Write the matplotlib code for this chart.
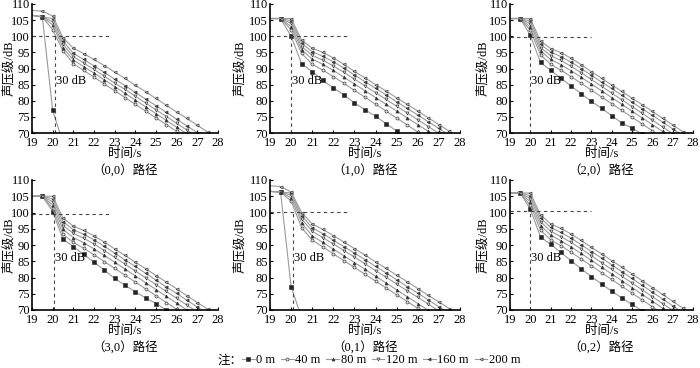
import matplotlib
matplotlib.use("Agg")
import matplotlib.pyplot as plt

plt.rcParams['font.family'] = ['Liberation Serif', 'Noto Sans CJK SC']
plt.rcParams['axes.unicode_minus'] = False

# time grid (s)
t = [19, 19.5, 20, 20.5, 21, 21.5, 22, 22.5, 23, 23.5, 24, 24.5, 25, 25.5, 26, 26.5, 27, 27.5, 28]
distances = ["0 m", "40 m", "80 m", "120 m", "160 m", "200 m"]
panel_titles = ["（0,0）路径", "（1,0）路径", "（2,0）路径", "（3,0）路径", "（0,1）路径", "（0,2）路径"]
xticks = [19, 20, 21, 22, 23, 24, 25, 26, 27, 28]
yticks = [70, 75, 80, 85, 90, 95, 100, 105, 110]

# panel (0,0)
p00_0 = [106.5, 106.0, 77.0, 67.0]
p00_40 = [106.5, 106.0, 102.0, 95.5, 91.5, 89.4, 87.3, 85.2, 83.1, 81.0, 78.9, 76.8, 74.7, 72.6, 70.5, 68.4]
p00_80 = [106.5, 106.0, 103.5, 96.5, 92.6, 90.6, 88.6, 86.5, 84.4, 82.3, 80.2, 78.1, 76.0, 73.9, 71.8, 69.7]
p00_120 = [106.5, 106.0, 104.5, 97.5, 93.7, 91.7, 89.7, 87.6, 85.5, 83.5, 81.4, 79.3, 77.2, 75.1, 73.0, 70.9, 68.8]
p00_160 = [106.5, 106.0, 105.5, 98.5, 94.7, 92.8, 90.8, 88.8, 86.7, 84.7, 82.6, 80.5, 78.5, 76.4, 74.3, 72.2, 70.1, 68.0]
p00_200 = [108.0, 107.8, 106.3, 99.5, 96.3, 94.6, 92.8, 90.9, 88.9, 86.9, 84.8, 82.8, 80.7, 78.6, 76.5, 74.5, 72.4, 70.3, 68.2]

# panel (1,0)
p10_0 = [105.5, 105.5, 100.0, 91.5, 89.0, 86.3, 84.0, 81.8, 79.3, 77.2, 75.2, 72.9, 70.6, 68.4]
p10_40 = [105.5, 105.5, 102.0, 94.7, 91.3, 89.5, 87.5, 85.4, 83.2, 81.1, 78.9, 76.8, 74.6, 72.5, 70.3, 68.2]
p10_80 = [105.5, 105.5, 103.0, 95.8, 92.9, 91.3, 89.4, 87.3, 85.2, 83.1, 81.0, 78.9, 76.8, 74.7, 72.6, 70.5, 68.4]
p10_120 = [105.5, 105.5, 104.0, 96.8, 94.1, 92.6, 90.8, 88.8, 86.7, 84.6, 82.5, 80.4, 78.3, 76.2, 74.1, 72.0, 69.9]
p10_160 = [105.5, 105.5, 104.8, 97.8, 95.2, 93.8, 92.1, 90.1, 88.0, 85.9, 83.9, 81.8, 79.7, 77.6, 75.6, 73.5, 71.4, 69.3]
p10_200 = [105.5, 105.5, 105.5, 98.8, 96.3, 95.0, 93.3, 91.3, 89.1, 87.1, 85.0, 83.0, 80.9, 78.9, 76.8, 74.7, 72.6, 70.5, 68.4]

# panel (2,0)
p20_0 = [105.5, 105.5, 100.3, 91.9, 89.4, 87.0, 84.6, 82.2, 79.8, 77.7, 75.4, 73.1, 71.5, 69.7]
p20_40 = [105.5, 105.5, 101.8, 94.3, 91.3, 89.5, 87.5, 85.4, 83.3, 81.2, 79.1, 77.0, 74.9, 72.8, 70.7, 68.6]
p20_80 = [105.5, 105.5, 102.8, 95.5, 92.8, 91.2, 89.3, 87.3, 85.2, 83.1, 81.0, 78.9, 76.8, 74.7, 72.6, 70.5, 68.4]
p20_120 = [105.5, 105.5, 103.8, 96.5, 94.0, 92.5, 90.7, 88.7, 86.6, 84.5, 82.4, 80.3, 78.2, 76.1, 74.0, 71.9, 69.8]
p20_160 = [105.5, 105.5, 104.7, 97.5, 95.1, 93.7, 92.0, 90.0, 87.9, 85.8, 83.8, 81.7, 79.6, 77.5, 75.5, 73.4, 71.3, 69.2]
p20_200 = [105.5, 105.5, 105.5, 98.5, 96.2, 94.9, 93.2, 91.2, 89.0, 87.0, 84.9, 82.9, 80.8, 78.8, 76.7, 74.6, 72.5, 70.4, 68.3]

# panel (3,0)
p30_0 = [105.0, 105.0, 100.3, 91.8, 89.5, 87.1, 84.7, 82.3, 79.7, 77.6, 75.6, 73.7, 72.0, 70.0, 68.0]
p30_40 = [105.0, 105.0, 101.3, 93.3, 90.8, 89.0, 87.0, 84.9, 82.8, 80.7, 78.6, 76.5, 74.4, 72.3, 70.2, 68.1]
p30_80 = [105.0, 105.0, 102.3, 94.8, 92.3, 90.7, 88.8, 86.8, 84.7, 82.6, 80.5, 78.4, 76.3, 74.2, 72.1, 70.0, 67.9]
p30_120 = [105.0, 105.0, 103.3, 96.0, 93.6, 92.1, 90.3, 88.3, 86.2, 84.1, 82.0, 79.9, 77.8, 75.7, 73.6, 71.5, 69.4]
p30_160 = [105.0, 105.0, 104.2, 97.2, 94.7, 93.3, 91.6, 89.6, 87.5, 85.4, 83.4, 81.3, 79.2, 77.1, 75.1, 73.0, 70.9, 68.8]
p30_200 = [105.0, 105.0, 105.0, 98.3, 95.8, 94.5, 92.8, 90.9, 88.8, 86.8, 84.7, 82.7, 80.6, 78.6, 76.5, 74.4, 72.3, 70.3, 68.2]

# panel (0,1)
p01_0 = [106.5, 106.3, 77.2, 67.5]
p01_40 = [106.5, 106.3, 103.5, 95.3, 91.5, 89.4, 87.3, 85.2, 83.1, 81.0, 78.9, 76.8, 74.7, 72.6, 70.5, 68.4]
p01_80 = [106.5, 106.3, 104.5, 96.8, 92.8, 90.8, 88.7, 86.7, 84.6, 82.5, 80.4, 78.3, 76.2, 74.1, 72.0, 69.9]
p01_120 = [106.5, 106.3, 105.3, 98.0, 94.2, 92.3, 90.3, 88.3, 86.3, 84.2, 82.1, 80.1, 78.0, 75.9, 73.9, 71.8, 69.7]
p01_160 = [106.5, 106.3, 106.0, 99.0, 95.3, 93.5, 91.5, 89.5, 87.5, 85.5, 83.4, 81.4, 79.3, 77.2, 75.2, 73.1, 71.0, 68.9]
p01_200 = [108.2, 108.0, 106.3, 100.0, 96.5, 94.8, 92.9, 90.9, 88.9, 86.9, 84.8, 82.8, 80.7, 78.7, 76.6, 74.5, 72.5, 70.4, 68.3]

# panel (0,2)
p02_0 = [106.0, 106.0, 101.0, 92.5, 90.2, 87.7, 85.2, 82.7, 80.3, 78.0, 75.8, 73.7, 71.7, 69.8]
p02_40 = [106.0, 106.0, 102.2, 94.6, 91.6, 89.8, 87.8, 85.7, 83.6, 81.5, 79.4, 77.3, 75.2, 73.1, 71.0, 68.9]
p02_80 = [106.0, 106.0, 103.3, 96.0, 93.0, 91.3, 89.4, 87.4, 85.3, 83.2, 81.1, 79.0, 76.9, 74.8, 72.7, 70.6, 68.5]
p02_120 = [106.0, 106.0, 104.3, 97.2, 94.2, 92.6, 90.8, 88.8, 86.7, 84.6, 82.5, 80.4, 78.3, 76.2, 74.1, 72.0, 69.9]
p02_160 = [106.0, 106.0, 105.2, 98.3, 95.4, 93.9, 92.1, 90.1, 88.0, 86.0, 83.9, 81.8, 79.7, 77.6, 75.5, 73.4, 71.3, 69.2]
p02_200 = [106.0, 106.0, 106.0, 99.3, 96.5, 95.1, 93.4, 91.4, 89.3, 87.3, 85.2, 83.2, 81.1, 79.0, 76.9, 74.8, 72.7, 70.6, 68.5]

panels = [
    [p00_0, p00_40, p00_80, p00_120, p00_160, p00_200],
    [p10_0, p10_40, p10_80, p10_120, p10_160, p10_200],
    [p20_0, p20_40, p20_80, p20_120, p20_160, p20_200],
    [p30_0, p30_40, p30_80, p30_120, p30_160, p30_200],
    [p01_0, p01_40, p01_80, p01_120, p01_160, p01_200],
    [p02_0, p02_40, p02_80, p02_120, p02_160, p02_200],
]
# reference (dashed) lines: vertical x, horizontal y, horizontal end x
ref_x = [20.1, 20.0, 20.0, 20.05, 20.1, 20.0]
ref_y = [100.2, 100.0, 99.8, 99.4, 100.1, 100.4]
ref_end = [22.8, 22.7, 23.0, 22.8, 22.8, 23.0]

marker_styles = [
    dict(marker='s', mfc='#222222'),
    dict(marker='o', mfc='#dddddd'),
    dict(marker='^', mfc='#333333'),
    dict(marker='v', mfc='#dddddd'),
    dict(marker='<', mfc='#444444'),
    dict(marker='<', mfc='#bbbbbb'),
]
line_color = '#9a9a9a'

fig = plt.figure(figsize=(7.0, 3.68), dpi=100)

# axes positions in pixels: (left, right) per column, (top, bottom) per row
cols = [(32, 218), (270, 460), (510, 693)]
rows = [(4, 133), (180, 310)]
W, H = 700.0, 368.0
ylab_x = [9, 240, 483]

handles = []
for i, series in enumerate(panels):
    r, c = divmod(i, 3)
    l, rgt = cols[c]
    tp, bt = rows[r]
    ax = fig.add_axes([l / W, 1 - bt / H, (rgt - l) / W, (bt - tp) / H])
    for j, vals in enumerate(series):
        h, = ax.plot(t[:len(vals)], vals, color=line_color, lw=0.8,
                     ms=2.2, mec='#333333', mew=0.45,
                     markevery=list(range(1, len(vals))), **marker_styles[j])
        if i == 0:
            handles.append(h)
    ax.plot([ref_x[i], ref_x[i]], [70, ref_y[i]], ls=(0, (3, 3)), color='#444444', lw=0.8)
    ax.plot([19, ref_end[i]], [ref_y[i], ref_y[i]], ls=(0, (3, 3)), color='#444444', lw=0.8)
    ax.text(ref_x[i] + 0.05, 86, "30 dB", fontsize=9, ha='left', va='center',
            family=['Liberation Serif'])
    ax.set_xlim(19, 28)
    ax.set_ylim(70, 110)
    ax.set_xticks(xticks)
    ax.set_yticks(yticks)
    ax.tick_params(direction='in', length=2.5, width=0.8, labelsize=9)
    ax.tick_params(axis='x', pad=3)
    ax.tick_params(axis='y', pad=1.5)
    for lab in ax.get_xticklabels() + ax.get_yticklabels():
        lab.set_family(['Liberation Serif'])
    ax.spines['top'].set_visible(False)
    ax.spines['right'].set_visible(False)
    ax.spines['left'].set_linewidth(1.2)
    ax.spines['bottom'].set_linewidth(1.2)
    ax.patch.set_alpha(0)
    cx = (l + rgt) / 2 / W
    fig.text(ylab_x[c] / W, 1 - (tp + bt) / 2 / H, "声压级/dB", rotation=90,
             ha='center', va='center', fontsize=9,
             family=['Liberation Serif', 'Noto Sans CJK SC'])
    fig.text(cx, 1 - (bt + 21) / H, "时间/s", ha='center', va='center', fontsize=9,
             family=['Liberation Serif', 'Noto Sans CJK SC'])
    fig.text(cx, 1 - (bt + 37.5) / H, panel_titles[i], ha='center', va='center', fontsize=9,
             family=['Liberation Serif', 'Noto Sans CJK SC'])

fig.text(230 / W, 1 - 360 / H, "注：", ha='center', va='center', fontsize=9,
         family=['Noto Sans CJK SC'])
leg = fig.legend(handles, distances, loc='center left', bbox_to_anchor=(242 / W, 1 - 360 / H),
                 ncol=6, frameon=False, handlelength=1.0, handletextpad=0.15,
                 columnspacing=0.45, borderaxespad=0, borderpad=0,
                 prop={'family': ['Liberation Serif'], 'size': 9})

fig.savefig("out.png", dpi=100)
